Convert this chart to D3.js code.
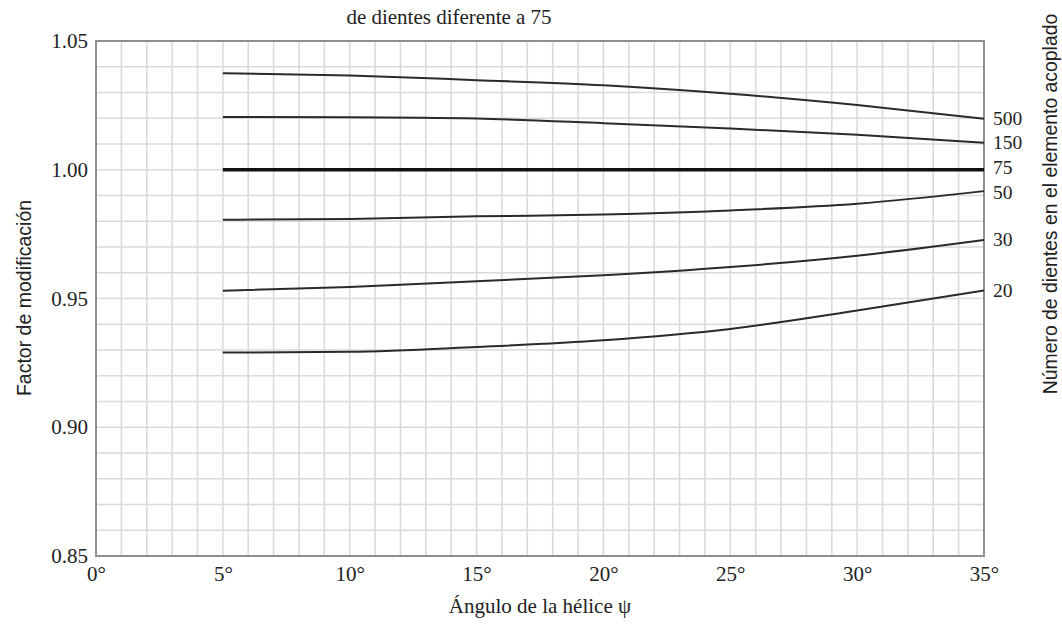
<!DOCTYPE html>
<html>
<head>
<meta charset="utf-8">
<script src="https://cdn.jsdelivr.net/npm/d3@7"></script>
<style>
  body { margin: 0; background: #fff; }
  svg { display: block; }
</style>
</head>
<body>
<svg></svg>
<script>
// helix angle (deg) where the curves are read
let angles = [5, 10, 15, 20, 25, 30, 35]

// teeth in mating element, one curve each
let teeth = ["500", "150", "75", "50", "30", "20"]
let f500 = [1.0375, 1.0366, 1.0348, 1.0328, 1.0295, 1.0251, 1.0198]
let f150 = [1.0205, 1.0204, 1.0199, 1.0181, 1.0160, 1.0136, 1.0105]
let f75  = [1.0, 1.0, 1.0, 1.0, 1.0, 1.0, 1.0]
let f50  = [0.9806, 0.9809, 0.9819, 0.9826, 0.9842, 0.9868, 0.9917]
let f30  = [0.9530, 0.9545, 0.9567, 0.9590, 0.9622, 0.9666, 0.9727]
let f20  = [0.9290, 0.9293, 0.9312, 0.9338, 0.9382, 0.9453, 0.9531]

let xTicks = [0, 5, 10, 15, 20, 25, 30, 35]
let yTicks = [0.85, 0.90, 0.95, 1.00, 1.05]

let width = 1062
let height = 625
let plotLeft = 96, plotRight = 984, plotTop = 41, plotBottom = 556

let serif = "'Liberation Serif', 'Times New Roman', serif"
let sans = "'Liberation Sans', Arial, sans-serif"

let svg = d3.select('svg')
svg.attr('width', width).attr('height', height)

let xScale = d3.scaleLinear().domain([0, 35]).range([plotLeft, plotRight])
let yScale = d3.scaleLinear().domain([0.85, 1.05]).range([plotBottom, plotTop])

// grid, 1 deg by 0.01
let grid = svg.append('g')
grid.selectAll('line.v')
    .data(xScale.ticks(35))
    .enter()
    .append('line')
    .attr('x1', d => xScale(d)).attr('x2', d => xScale(d))
    .attr('y1', plotTop).attr('y2', plotBottom)
    .attr('stroke', '#dadada').attr('stroke-width', 1.6)
grid.selectAll('line.h')
    .data(yScale.ticks(20))
    .enter()
    .append('line')
    .attr('x1', plotLeft).attr('x2', plotRight)
    .attr('y1', d => yScale(d)).attr('y2', d => yScale(d))
    .attr('stroke', '#dadada').attr('stroke-width', 1.6)

svg.append('rect')
    .attr('x', plotLeft).attr('y', plotTop)
    .attr('width', plotRight - plotLeft).attr('height', plotBottom - plotTop)
    .attr('fill', 'none')
    .attr('stroke', '#8e8e8e').attr('stroke-width', 2)

// curves
let series = [f500, f150, f75, f50, f30, f20]
let line = d3.line()
    .x((d, i) => xScale(angles[i]))
    .y(d => yScale(d))
    .curve(d3.curveMonotoneX)

svg.selectAll('path.curve')
    .data(series)
    .enter()
    .append('path')
    .attr('class', 'curve')
    .attr('d', d => line(d))
    .attr('fill', 'none')
    .attr('stroke', (d, i) => teeth[i] == "75" ? '#111' : '#2a2a2a')
    .attr('stroke-width', (d, i) => teeth[i] == "75" ? 3.5 : 2)

// 75 and 50 sit close together, nudge them apart a little
svg.selectAll('text.teeth')
    .data(series)
    .enter()
    .append('text')
    .attr('x', 993)
    .attr('y', (d, i) => yScale(d[d.length - 1]) + 6 + (teeth[i] == "75" ? -1.5 : teeth[i] == "50" ? 1.5 : 0))
    .attr('font-family', serif)
    .attr('font-size', 19.5)
    .attr('fill', '#222')
    .text((d, i) => teeth[i])

// axes
let yAxis = d3.axisLeft(yScale).tickValues(yTicks).tickSize(0).tickPadding(8)
    .tickFormat(d3.format('.2f'))
let xAxis = d3.axisBottom(xScale).tickValues(xTicks).tickSize(0).tickPadding(10)
    .tickFormat(d => d + '°')

let gy = svg.append('g').attr('transform', 'translate(' + plotLeft + ',0)').call(yAxis)
let gx = svg.append('g').attr('transform', 'translate(0,' + plotBottom + ')').call(xAxis)
gy.select('.domain').remove()
gx.select('.domain').remove()
gy.attr('font-family', serif).attr('font-size', 21)
gx.attr('font-family', serif).attr('font-size', 21)
svg.selectAll('.tick text').attr('fill', '#222')

// titles
svg.append('text')
    .attr('x', 449).attr('y', 24)
    .attr('text-anchor', 'middle')
    .attr('font-family', serif).attr('font-size', 21).attr('fill', '#222')
    .text('de dientes diferente a 75')

svg.append('text')
    .attr('x', 540).attr('y', 613)
    .attr('text-anchor', 'middle')
    .attr('font-family', serif).attr('font-size', 21).attr('fill', '#222')
    .text('Ángulo de la hélice ψ')

svg.append('text')
    .attr('transform', 'translate(31,298) rotate(-90)')
    .attr('text-anchor', 'middle')
    .attr('font-family', sans).attr('font-size', 19.5).attr('fill', '#222')
    .text('Factor de modificación')

svg.append('text')
    .attr('transform', 'translate(1057,204) rotate(-90)')
    .attr('text-anchor', 'middle')
    .attr('font-family', sans).attr('font-size', 19.4).attr('fill', '#222')
    .text('Número de dientes en el elemento acoplado')
</script>
</body>
</html>
